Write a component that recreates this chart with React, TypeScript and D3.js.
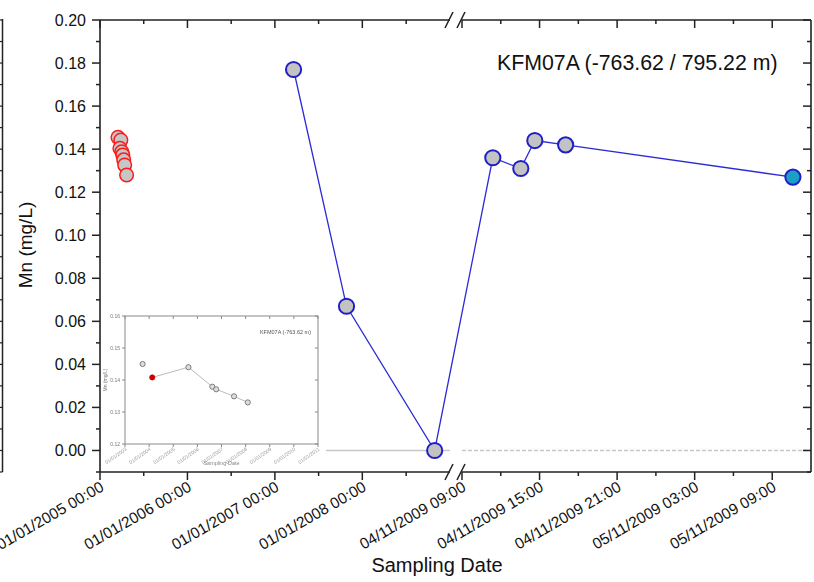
import React from "react";
import * as d3 from "d3";

// Mn concentration, KFM07A, section -763.62 / 795.22 m
const historicDates = ["2005-03-17", "2005-03-29", "2005-03-25", "2005-04-02", "2005-04-06", "2005-04-10", "2005-04-14", "2005-04-22"];
const historicMn = [0.1455, 0.1442, 0.1404, 0.1388, 0.1373, 0.135, 0.1326, 0.128];

const seriesDates = ["2007-03-20T00:00", "2007-10-27T00:00", "2008-10-29T00:00", "2009-11-04T11:23", "2009-11-04T13:33", "2009-11-04T14:38", "2009-11-04T17:01", "2009-11-05T10:36"];
const seriesMn = [0.177, 0.067, 0.0, 0.136, 0.131, 0.144, 0.142, 0.127];

const yTicks = [0, 0.02, 0.04, 0.06, 0.08, 0.1, 0.12, 0.14, 0.16, 0.18, 0.2];
const yMinorTicks = [-0.01, 0.01, 0.03, 0.05, 0.07, 0.09, 0.11, 0.13, 0.15, 0.17, 0.19];

const leftMajor = ["2005-01-01T00:00", "2006-01-01T00:00", "2007-01-01T00:00", "2008-01-01T00:00"];
const leftMinor = ["2005-07-02T12:00", "2006-07-02T12:00", "2007-07-02T12:00", "2008-07-02T00:00"];
const rightMajor = ["2009-11-04T09:00", "2009-11-04T15:00", "2009-11-04T21:00", "2009-11-05T03:00", "2009-11-05T09:00"];
const rightMinor = ["2009-11-04T12:00", "2009-11-04T18:00", "2009-11-05T00:00", "2009-11-05T06:00"];

// inset: earlier record of the same borehole
const insetYears = [2003.73, 2004.13, 2005.63, 2006.62, 2006.78, 2007.52, 2008.09];
const insetMn = [0.145, 0.1408, 0.144, 0.1379, 0.1371, 0.1349, 0.133];
const insetYTicks = [0.12, 0.13, 0.14, 0.15, 0.16];
const insetXTicks = [2003, 2004, 2005, 2006, 2007, 2008, 2009, 2010, 2011];

const pd = (s: string) => new Date(s.length === 10 ? s + "T00:00" : s);

const fmt = d3.timeFormat("%d/%m/%Y %H:%M");

const W = 814;
const H = 582;
const L = 100, R = 811, T = 20, B = 472;
const breakL = 450, breakR = 462;

const y = d3.scaleLinear().domain([-0.01, 0.2]).range([B, T]);
const xLeft = d3.scaleTime().domain([pd("2005-01-01"), pd("2009-01-01")]).range([L, breakL]);
const xRight = d3.scaleTime().domain([pd("2009-11-04T09:00"), pd("2009-11-05T12:00")]).range([breakR, R]);
const xOf = (d: Date) => (d < pd("2009-06-01") ? xLeft(d) : xRight(d));

const FONT = "Liberation Sans, Arial, sans-serif";
const AX = "#222";

function Inset() {
  const iL = 125, iR = 318, iT = 316, iB = 444;
  const ix = d3.scaleLinear().domain([2003, 2011]).range([iL, iR]);
  const iy = d3.scaleLinear().domain([0.12, 0.16]).range([iB, iT]);
  const line = d3.line<number>().x((_, i) => ix(insetYears[i + 1])).y((v) => iy(v));
  const c = "#8a8a8a";
  return (
    <g filter="url(#soft)">
      <rect x={101} y={305} width={225} height={166} fill="#fff" />
      <rect x={iL} y={iT} width={iR - iL} height={iB - iT} fill="none" stroke={c} strokeWidth={1} />
      {insetYTicks.map((t) => (
        <g key={t}>
          <line x1={iL - 3} x2={iL} y1={iy(t)} y2={iy(t)} stroke={c} />
          <line x1={iR - 3} x2={iR} y1={iy(t)} y2={iy(t)} stroke={c} />
          <text x={iL - 5} y={iy(t)} dy="0.35em" textAnchor="end" fontSize={5} fill="#777" fontFamily={FONT}>
            {t.toFixed(2)}
          </text>
        </g>
      ))}
      {insetXTicks.map((t) => (
        <g key={t}>
          <line x1={ix(t)} x2={ix(t)} y1={iB} y2={iB + 3} stroke={c} />
          <line x1={ix(t)} x2={ix(t)} y1={iT} y2={iT + 3} stroke={c} />
          <text
            transform={`translate(${ix(t) + 2},${iB + 6}) rotate(-35)`}
            textAnchor="end"
            fontSize={5}
            fill="#999"
            fontFamily={FONT}
          >
            {`01/01/${t}`}
          </text>
        </g>
      ))}
      <path d={line(insetMn.slice(1)) || ""} fill="none" stroke="#aaa" strokeWidth={0.8} />
      {insetMn.map((v, i) => (
        <circle
          key={i}
          cx={ix(insetYears[i])}
          cy={iy(v)}
          r={2.6}
          fill={i === 1 ? "#c00" : "#ddd"}
          stroke={i === 1 ? "#c00" : "#666"}
          strokeWidth={0.8}
        />
      ))}
      <text x={311} y={334} textAnchor="end" fontSize={5.5} fill="#555" fontFamily={FONT}>
        KFM07A (-763.62 m)
      </text>
      <text transform={`translate(107,${(iT + iB) / 2}) rotate(-90)`} textAnchor="middle" fontSize={5} fill="#777" fontFamily={FONT}>
        Mn (mg/L)
      </text>
      <text x={(iL + iR) / 2} y={465} textAnchor="middle" fontSize={5.5} fill="#888" fontFamily={FONT}>
        Sampling Date
      </text>
    </g>
  );
}

export default function App() {
  const pts = seriesDates.map((s, i) => ({ x: xOf(pd(s)), y: y(seriesMn[i]) }));
  const path = d3.line<{ x: number; y: number }>().x((d) => d.x).y((d) => d.y)(pts) || "";

  const xTicksMajor = [...leftMajor.map((s) => xLeft(pd(s))), ...rightMajor.map((s) => xRight(pd(s)))];
  const xTicksMinor = [...leftMinor.map((s) => xLeft(pd(s))), ...rightMinor.map((s) => xRight(pd(s)))];
  const majorLabels = [...leftMajor, ...rightMajor].map((s) => fmt(pd(s)));

  // partial neighbouring frame at the left edge
  const edgeTicks = d3.range(T, B + 1, (B - T) / 21);

  return (
    <svg width={W} height={H} style={{ position: "absolute", left: 0, top: 0, background: "#fff" }} fontFamily={FONT}>
      <defs>
        <filter id="soft" x="0" y="0" width="1" height="1">
          <feGaussianBlur stdDeviation={0.45} />
        </filter>
      </defs>

      <line x1={2.5} x2={2.5} y1={T - 1} y2={B} stroke={AX} strokeWidth={1.5} />
      {edgeTicks.map((t, i) => (
        <line key={i} x1={0} x2={2.5} y1={t} y2={t} stroke={AX} strokeWidth={1.2} />
      ))}

      {/* zero reference */}
      <line x1={L} x2={breakL} y1={y(0)} y2={y(0)} stroke="#c8c8c8" strokeWidth={1.6} />
      <line x1={breakR} x2={R} y1={y(0)} y2={y(0)} stroke="#c8c8c8" strokeWidth={1.6} strokeDasharray="4 2" />

      <Inset />

      {/* frame */}
      <line x1={L} x2={L} y1={T} y2={B} stroke={AX} strokeWidth={1.6} />
      <line x1={R} x2={R} y1={T} y2={B} stroke={AX} strokeWidth={1.6} />
      <line x1={L} x2={breakL} y1={B} y2={B} stroke={AX} strokeWidth={1.6} />
      <line x1={breakR} x2={R} y1={B} y2={B} stroke={AX} strokeWidth={1.6} />
      <line x1={L} x2={breakL} y1={T} y2={T} stroke={AX} strokeWidth={1.6} />
      <line x1={breakR} x2={R} y1={T} y2={T} stroke={AX} strokeWidth={1.6} />
      {[breakL - 1, breakR - 1].map((bx) =>
        [T, B].map((by) => (
          <line key={`${bx}-${by}`} x1={bx - 4} y1={by + 8} x2={bx + 4} y2={by - 8} stroke={AX} strokeWidth={1.6} />
        ))
      )}

      {yTicks.map((t) => (
        <g key={t}>
          <line x1={L - 8} x2={L} y1={y(t)} y2={y(t)} stroke={AX} strokeWidth={1.5} />
          <line x1={R - 8} x2={R} y1={y(t)} y2={y(t)} stroke={AX} strokeWidth={1.5} />
          <text x={L - 14} y={y(t)} dy="0.36em" textAnchor="end" fontSize={16} fill="#111">
            {t.toFixed(2)}
          </text>
        </g>
      ))}
      {yMinorTicks.map((t) => (
        <g key={t}>
          <line x1={L - 4} x2={L} y1={y(t)} y2={y(t)} stroke={AX} strokeWidth={1.5} />
          <line x1={R - 4} x2={R} y1={y(t)} y2={y(t)} stroke={AX} strokeWidth={1.5} />
        </g>
      ))}

      {xTicksMajor.map((tx, i) => (
        <g key={i}>
          <line x1={tx} x2={tx} y1={B} y2={B + 8} stroke={AX} strokeWidth={1.5} />
          <line x1={tx} x2={tx} y1={T} y2={T + 8} stroke={AX} strokeWidth={1.5} />
          <text transform={`translate(${tx + 5},${490}) rotate(-30)`} textAnchor="end" fontSize={15.5} fill="#111">
            {majorLabels[i]}
          </text>
        </g>
      ))}
      {xTicksMinor.map((tx, i) => (
        <g key={i}>
          <line x1={tx} x2={tx} y1={B} y2={B + 4} stroke={AX} strokeWidth={1.5} />
          <line x1={tx} x2={tx} y1={T} y2={T + 4} stroke={AX} strokeWidth={1.5} />
        </g>
      ))}

      <text transform={`translate(32,${245}) rotate(-90)`} textAnchor="middle" fontSize={19} fill="#111">
        Mn (mg/L)
      </text>
      <text x={437} y={572} textAnchor="middle" fontSize={20} fill="#111">
        Sampling Date
      </text>
      <text x={497} y={70} fontSize={21.3} fill="#111">
        KFM07A (-763.62 / 795.22 m)
      </text>

      {historicMn.map((v, i) => (
        <circle key={i} cx={xLeft(pd(historicDates[i]))} cy={y(v)} r={6.8} fill="#c6c6c6" stroke="#ff1a1a" strokeWidth={1.5} />
      ))}

      <path d={path} fill="none" stroke="#2b2bd6" strokeWidth={1.3} />
      {pts.map((p, i) => (
        <circle
          key={i}
          cx={p.x}
          cy={p.y}
          r={7.6}
          fill={i === pts.length - 1 ? "#1c9fc4" : "#c3c3c3"}
          stroke="#1f1fc8"
          strokeWidth={2}
        />
      ))}
    </svg>
  );
}
